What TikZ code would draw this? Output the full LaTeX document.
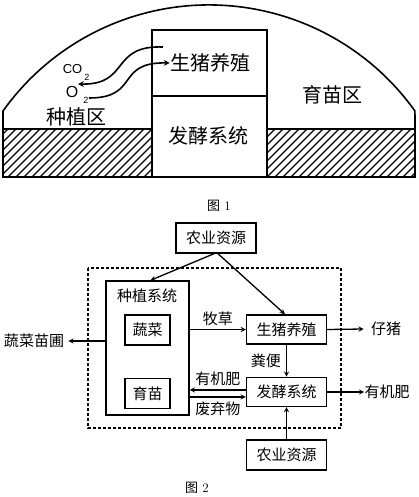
\documentclass[tikz,border=0pt]{standalone}
\usepackage{fontspec}
\newfontfamily\cjk{Noto Sans CJK SC}
\newfontfamily\latin{Liberation Sans}
\usetikzlibrary{arrows, positioning}

\begin{document}
\begin{tikzpicture}[
            x = 1pt, y = -1pt, % pixel units, y pointing down
            > = stealth, % arrow head style
            semithick % line style
        ]

        \tikzstyle{block}=[
            draw = black,
            line width = 1.4pt,
            minimum width = 80pt,
            minimum height = 29pt,
            inner sep = 0pt,
            font = \cjk\fontsize{15}{18}\selectfont
        ]
        \tikzstyle{small}=[block, minimum width = 45pt, minimum height = 30pt]
        \tikzstyle{lbl}=[inner sep = 0pt, font = \cjk\fontsize{15}{18}\selectfont]
        \tikzstyle{big}=[inner sep = 0pt, font = \cjk\fontsize{20}{24}\selectfont]
        \tikzstyle{flow}=[->, line width = 1.3pt]
        \tikzstyle{gas}=[->, line width = 1.6pt]

        \useasboundingbox (0,0) rectangle (418,497);

        % figure 1: greenhouse
        \begin{scope}[line width = 1.6pt]
            \draw (3,129) -- (3,111) arc[start angle=-144.5, end angle=-35.5, radius=253] -- (415,129);
            \begin{scope}
                \clip (3,129) rectangle (152,177);
                \foreach \i in {-56,-48,...,152} \draw[line width = 1.2pt] (\i,177) -- ++(56,-56);
            \end{scope}
            \begin{scope}
                \clip (267,129) rectangle (415,177);
                \foreach \i in {211,219,...,415} \draw[line width = 1.2pt] (\i,177) -- ++(56,-56);
            \end{scope}
            \draw (3,129) rectangle (152,177);
            \draw (267,129) rectangle (415,177);
            \draw (152,30) rectangle (267,177);
            \draw (152,96) -- (267,96);
        \end{scope}

        \node[big] (pigtext) at (210,63) {生猪养殖};
        \node[big] (fermtext) at (208,136) {发酵系统};
        \node[big] (seedzone) at (332,95) {育苗区};
        \node[big] (plantzone) at (76,117) {种植区};
        \node[inner sep = 0pt, font = \latin\fontsize{13}{13}\selectfont] (co) at (72.5,69) {CO};
        \node[inner sep = 0pt, font = \latin\fontsize{9}{9}\selectfont] (cosub) at (87,77) {2};
        \node[inner sep = 0pt, font = \latin\fontsize{16}{16}\selectfont] (o) at (72,91.5) {O};
        \node[inner sep = 0pt, font = \latin\fontsize{9}{9}\selectfont] (osub) at (86,100) {2};

        \coordinate (co2start) at (163,47);
        \coordinate (co2end) at (78,84);
        \coordinate (o2start) at (89,98);
        \draw[gas] (co2start) .. controls (110,45) and (130,85) .. (co2end);
        \draw[gas] (o2start) .. controls (140,98) and (115,62) .. (pigtext.west);

        \node[inner sep = 0pt, font = \fontsize{13}{13}\selectfont] (cap1) at (219,206) {{\cjk 图} 1};

        % figure 2: flow chart
        \node[block, minimum height = 30pt] (topsrc) at (216,238) {农业资源};
        \draw[line width = 1.6pt, dash pattern = on 3pt off 2pt] (88,268) rectangle (341,428);

        \node[block, minimum width = 83pt, minimum height = 134pt] (plant) at (147.5,348) {};
        \node[lbl] (plantlbl) at (147,296) {种植系统};
        \node[small] (veg) at (147.5,330) {蔬菜};
        \node[small] (seed) [below=32pt of veg] {育苗};

        \node[block] (pig) at (286.5,329.5) {生猪养殖};
        \node[block] (ferm) [below=32pt of pig] {发酵系统};
        \node[block, minimum height = 30pt] (botsrc) [below=32pt of ferm] {农业资源};

        \node[lbl] (nursery) at (34,341) {蔬菜苗圃};
        \node[lbl] (piglet) at (386,329) {仔猪};
        \node[lbl] (manure) at (387,392) {有机肥};

        \coordinate (fertin) at ([yshift=2pt]ferm.west);
        \coordinate (wastein) at ([yshift=-5pt]ferm.west);

        \draw[flow] ([xshift=-2pt]topsrc.south) -- ([xshift=3pt]plant.north);
        \draw[flow] ([xshift=2pt]topsrc.south) -- ([xshift=-1.5pt]pig.north);
        \draw[flow] (plant.west |- nursery) -- ([xshift=4pt]nursery.east);
        \draw[flow] (plant.east |- pig.west) -- (pig.west) node[lbl, midway, above=3pt] {牧草};
        \draw[flow] (pig.east) -- ([xshift=-7pt]piglet.west);
        \draw[flow] (pig.south) -- (ferm.north) node[lbl, midway, left=5pt] {粪便};
        \draw[flow] (fertin) -- (plant.east |- fertin) node[lbl, midway, above=4pt] {有机肥};
        \draw[flow] (plant.east |- wastein) -- (wastein) node[lbl, midway, below=4pt] {废弃物};
        \draw[flow] (ferm.east |- manure) -- (manure.west);
        \draw[flow] (botsrc.north) -- (ferm.south);

        \node[inner sep = 0pt, font = \fontsize{13}{13}\selectfont] (cap2) at (197,488) {{\cjk 图} 2};
    \end{tikzpicture}
\end{document}
